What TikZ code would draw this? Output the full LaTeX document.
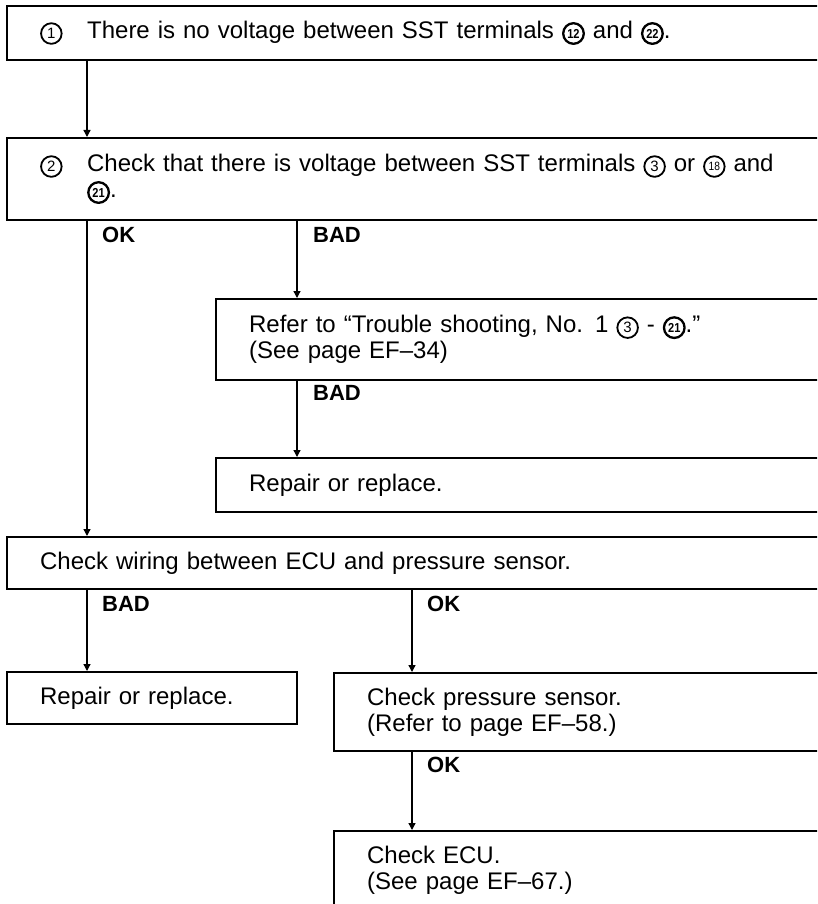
\documentclass[tikz,border=0pt]{standalone}
\usepackage{fontspec}
\setmainfont{Liberation Sans}
\usetikzlibrary{arrows.meta}
\tikzset{cdig/.style={rectangle,anchor=center,inner sep=0pt,outer sep=0pt,minimum width=0pt,minimum height=0pt,
  text width=,align=center,draw=none,fill=none}}
\newcommand\cn[2][15]{\tikz[baseline=-5.2pt]{\draw[line width=1.8pt,draw=black,fill=none] (0pt,0pt) circle[radius=10.3pt];
  \node[cdig,font=\fontsize{#1}{#1}\selectfont] (cc) at (0pt,0pt) {#2};}}
\newcommand\cnb[1]{\tikz[baseline=-5.2pt]{\draw[line width=2.3pt,draw=black,fill=none] (0pt,0pt) circle[radius=10.3pt];
  \node[cdig,font=\fontsize{13}{13}\selectfont\bfseries] (cc) at (0pt,0pt) {\scalebox{0.85}[1]{#1}};}}
\begin{document}
\begin{tikzpicture}[x=1pt,y=-1pt,
  box/.style={draw,line width=2.3pt,rectangle,anchor=north west,inner xsep=33pt,inner ysep=0pt,align=left,
    font=\fontsize{24}{26}\selectfont},
  lbl/.style={anchor=west,inner sep=0pt,font=\fontsize{22}{22}\selectfont\bfseries},
  arr/.style={line width=1.3pt,-{Triangle[length=7pt,width=7pt]}}]
\useasboundingbox (0,0) rectangle (817,904);
\clip (0,0) rectangle (817,904);
\node[box,minimum height=54pt,text width=768pt] (b1) at (6,5)
  {\makebox[47pt][l]{\cn{1}}There is no voltage between SST terminals \cnb{12} and \cnb{22}.};
\node[box,minimum height=82pt,text width=768pt] (b2) at (6,137)
  {\makebox[47pt][l]{\cn{2}}Check that there is voltage between SST terminals \cn{3} or \cn[12]{\scalebox{0.85}[1]{18}} and\\\hspace*{47pt}\cnb{21}.};
\node[box,minimum height=81pt,text width=559pt] (b3) at (215,298)
  {Refer to “Trouble shooting, No. 1 \cn{3} - \cnb{21}.”\\(See page EF–34)};
\node[box,minimum height=54pt,text width=559pt] (b4) at (215,457) {Repair or replace.};
\node[box,minimum height=52pt,text width=768pt] (b5) at (6,536) {Check wiring between ECU and pressure sensor.};
\node[box,minimum height=52pt,text width=224pt] (b6) at (6,671) {Repair or replace.};
\node[box,minimum height=78pt,text width=441pt] (b7) at (333,672) {Check pressure sensor.\\(Refer to page EF–58.)};
\node[box,minimum height=79pt,text width=441pt] (b8) at (333,830) {Check ECU.\\(See page EF–67.)};
\coordinate (xa) at (87,0);
\coordinate (xb) at (297,0);
\coordinate (xc) at (412,0);
\draw[arr] (b1.south -| xa) -- (b2.north -| xa);
\draw[arr] (b2.south -| xa) -- (b5.north -| xa);
\draw[arr] (b2.south -| xb) -- (b3.north -| xb);
\draw[arr] (b3.south -| xb) -- (b4.north -| xb);
\draw[arr] (b5.south -| xa) -- (b6.north -| xa);
\draw[arr] (b5.south -| xc) -- (b7.north -| xc);
\draw[arr] (b7.south -| xc) -- (b8.north -| xc);
\node[lbl] (l1) at (102,235) {OK};
\node[lbl] (l2) at (313,235) {BAD};
\node[lbl] (l3) at (313,393) {BAD};
\node[lbl] (l4) at (102,604) {BAD};
\node[lbl] (l5) at (427,604) {OK};
\node[lbl] (l6) at (427,765) {OK};
\end{tikzpicture}
\end{document}
